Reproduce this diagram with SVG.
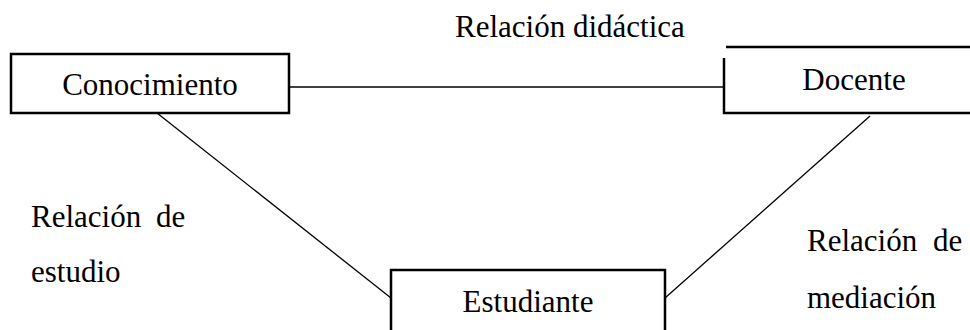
<svg xmlns="http://www.w3.org/2000/svg" width="970" height="330" viewBox="0 0 970 330">
<style>
.box{fill:#fff;stroke:#000;stroke-width:2.5}
.edge{fill:none;stroke:#000;stroke-width:1.3}
.t{font-family:'Liberation Serif','Times New Roman',Times,serif;font-size:31px;fill:#000}
</style>
<rect width="970" height="330" fill="#fff"/>
<g id="connectors">
<line class="edge" x1="289" y1="87" x2="724" y2="87"/>
<line class="edge" x1="157" y1="113" x2="391" y2="298"/>
<line class="edge" x1="870" y1="116" x2="665" y2="298"/>
</g>
<g id="conocimiento">
<rect class="box" x="11" y="54" width="278" height="59"/>
<text class="t" x="150" y="95" text-anchor="middle">Conocimiento</text>
</g>
<g id="docente">
<path d="M970 113 H724 V58" fill="none" stroke="#000" stroke-width="2.5"/>
<line x1="726" y1="47" x2="970" y2="47" stroke="#000" stroke-width="2.5"/>
<text class="t" x="854" y="90" text-anchor="middle">Docente</text>
</g>
<g id="estudiante">
<path class="box" d="M391 332 V270 H665 V332"/>
<text class="t" x="528" y="312" text-anchor="middle">Estudiante</text>
</g>
<g id="labels">
<text class="t" x="455" y="37">Relación didáctica</text>
<text class="t" x="31" y="227">Relación</text>
<text class="t" x="156" y="227">de</text>
<text class="t" x="31" y="282">estudio</text>
<text class="t" x="807" y="251">Relación</text>
<text class="t" x="933" y="251">de</text>
<text class="t" x="807" y="308">mediación</text>
</g>
</svg>
